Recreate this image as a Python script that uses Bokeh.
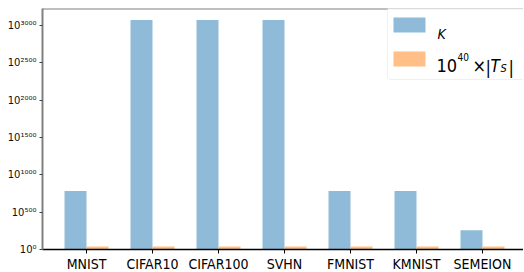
from bokeh.plotting import figure
from bokeh.models import (ColumnDataSource, FixedTicker, Span, BoxAnnotation, Label)
from bokeh.transform import dodge
from bokeh.embed import file_html
from bokeh.resources import INLINE

# ---- data (values are log10 of the plotted quantity) ----
categories = ["MNIST", "CIFAR10", "CIFAR100", "SVHN", "FMNIST", "KMNIST", "SEMEION"]
k_log10 = [784, 3072, 3072, 3072, 784, 784, 256]
ts_log10 = [41, 41, 41, 41, 41, 41, 41]
y_tick_exponents = [0, 500, 1000, 1500, 2000, 2500, 3000]

BLUE = "#8fbbd9"
ORANGE = "#ffbf86"
NARROW = "DejaVu Sans Condensed"

SUP = str.maketrans("0123456789", "⁰¹²³⁴⁵⁶⁷⁸⁹")

FL, FT = 42, 8          # frame left/top in page pixels
FW, FH = 481, 241
PPU = 66.0
X0 = -2.0 / 3.0
X1 = X0 + FW / PPU
Y1 = max(k_log10) * 1.05

src = ColumnDataSource(dict(x=list(range(len(categories))), k=k_log10, ts=ts_log10))

p = figure(frame_width=FW, frame_height=FH, x_range=(X0, X1), y_range=(0, Y1),
           output_backend="svg", toolbar_location=None,
           min_border_left=FL, min_border_right=0, min_border_top=FT, min_border_bottom=0)
p.background_fill_color = "white"
p.border_fill_color = "white"
p.outline_line_color = None
p.xgrid.visible = False
p.ygrid.visible = False

p.vbar(x=dodge("x", -1.0 / 6.0), top="k", width=1.0 / 3.0, bottom=0, source=src,
       fill_color=BLUE, line_color=None)
p.vbar(x=dodge("x", 1.0 / 6.0), top="ts", width=1.0 / 3.0, bottom=0, source=src,
       fill_color=ORANGE, line_color=None)

# x axis
p.xaxis.ticker = FixedTicker(ticks=list(range(len(categories))))
p.xaxis.major_label_overrides = {i: c for i, c in enumerate(categories)}
p.xaxis.major_label_text_font = NARROW
p.xaxis.major_label_text_font_size = "14px"
p.xaxis.major_label_text_color = "black"
p.xaxis.major_label_standoff = 2
p.xaxis.axis_line_color = "black"
p.xaxis.axis_line_width = 1.5
p.xaxis.major_tick_line_color = "black"
p.xaxis.major_tick_out = 4
p.xaxis.major_tick_in = 0
p.xaxis.minor_tick_line_color = None

# y axis
p.yaxis.ticker = FixedTicker(ticks=y_tick_exponents)
p.yaxis.major_label_overrides = {e: "10" + str(e).translate(SUP) for e in y_tick_exponents}
p.yaxis.major_label_text_font = "DejaVu Sans"
p.yaxis.major_label_text_font_size = "10px"
p.yaxis.major_label_text_color = "#111111"
p.yaxis.major_label_standoff = 3
p.yaxis.axis_line_color = "#808080"
p.yaxis.axis_line_width = 2
p.yaxis.major_tick_line_color = "#404040"
p.yaxis.major_tick_out = 3
p.yaxis.major_tick_in = 0
p.yaxis.minor_tick_line_color = None

# top spine
p.add_layout(Span(location=Y1, dimension="width", line_color="#808080", line_width=2))

# ---- legend (drawn by hand; positions in page pixels) ----
def fx(px):
    return X0 + (px - FL) / PPU

def fy(py):
    return Y1 * (1 - (py - FT) / FH)

p.add_layout(BoxAnnotation(left=fx(387), right=fx(540), top=fy(6), bottom=fy(79),
                           fill_color="white", fill_alpha=0.85,
                           line_color="#cccccc", line_width=1, border_radius=3))
p.add_layout(BoxAnnotation(left=fx(393), right=fx(425), top=fy(17), bottom=fy(32),
                           fill_color=BLUE, fill_alpha=1, line_color=None))
p.add_layout(BoxAnnotation(left=fx(393), right=fx(425), top=fy(51), bottom=fy(66),
                           fill_color=ORANGE, fill_alpha=1, line_color=None))

def lab(px, py, text, size, style="normal"):
    p.add_layout(Label(x=fx(px), y=fy(py), text=text, text_font=NARROW,
                       text_font_size=size, text_font_style=style,
                       text_color="black", text_baseline="alphabetic", text_align="left"))

lab(437, 33, "K", "14px", "italic")
lab(436, 65, "10", "18px")
lab(457, 56, "40", "10px")
lab(472, 65, "×", "18px")
lab(485, 67, "|", "18px")
lab(490, 65, "T", "17px", "italic")
lab(500, 68, "S", "11px", "italic")
lab(508, 67, "|", "18px")

open("out.html", "w").write(file_html(p, INLINE))
